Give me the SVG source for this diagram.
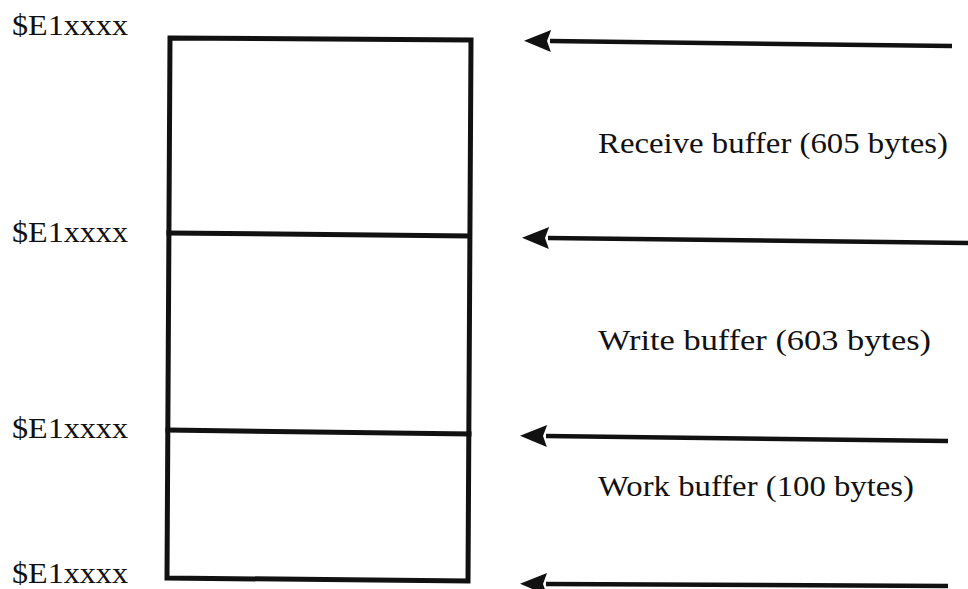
<svg xmlns="http://www.w3.org/2000/svg" width="968" height="589" viewBox="0 0 968 589">
  <style>
    .addr { font-family: "Liberation Serif", "Times New Roman", serif; font-size: 29px; fill: #111; }
    .label { font-family: "Liberation Serif", "Times New Roman", serif; font-size: 30px; fill: #111; }
    .edge { stroke: #111; stroke-width: 5; fill: none; stroke-linecap: square; }
    .ptr { stroke: #111; stroke-width: 4.5; fill: none; }
  </style>
  <defs>
    <!-- solid arrowhead, base sits on the line end and the tip runs 26px on -->
    <marker id="head" viewBox="0 0 30 26" refX="3" refY="13" markerWidth="30" markerHeight="26" markerUnits="userSpaceOnUse" orient="auto">
      <path d="M2,2 L29,13 L2,24 L6,13 Z" fill="#111"/>
    </marker>
  </defs>
  <rect width="968" height="589" fill="#fff"/>

  <!-- memory block with its three regions -->
  <g id="memory-block">
    <path class="edge" d="M170,38 L471,40 L468,581 L167,578 Z"/>
    <line class="edge" x1="169" y1="233" x2="469" y2="236"/>
    <line class="edge" x1="168" y1="430" x2="469" y2="434"/>
  </g>

  <!-- boundary addresses -->
  <g id="addr-top"><text class="addr" x="12" y="35" textLength="116" lengthAdjust="spacingAndGlyphs">$E1xxxx</text></g>
  <g id="addr-1"><text class="addr" x="12" y="242" textLength="116" lengthAdjust="spacingAndGlyphs">$E1xxxx</text></g>
  <g id="addr-2"><text class="addr" x="12" y="438" textLength="116" lengthAdjust="spacingAndGlyphs">$E1xxxx</text></g>
  <g id="addr-bottom"><text class="addr" x="12" y="583" textLength="116" lengthAdjust="spacingAndGlyphs">$E1xxxx</text></g>

  <!-- region names -->
  <g id="receive-buffer"><text class="label" x="598" y="153" textLength="350" lengthAdjust="spacingAndGlyphs">Receive buffer (605 bytes)</text></g>
  <g id="write-buffer"><text class="label" x="598" y="350" textLength="333" lengthAdjust="spacingAndGlyphs">Write buffer (603 bytes)</text></g>
  <g id="work-buffer"><text class="label" x="598" y="496" textLength="316" lengthAdjust="spacingAndGlyphs">Work buffer (100 bytes)</text></g>

  <!-- pointers to the region boundaries -->
  <g id="connectors">
    <line class="ptr" x1="952" y1="46" x2="550" y2="41" marker-end="url(#head)"/>
    <line class="ptr" x1="968" y1="243" x2="548" y2="238" marker-end="url(#head)"/>
    <line class="ptr" x1="948" y1="441" x2="546" y2="436" marker-end="url(#head)"/>
    <line class="ptr" x1="948" y1="586" x2="546" y2="584" marker-end="url(#head)"/>
  </g>
</svg>
